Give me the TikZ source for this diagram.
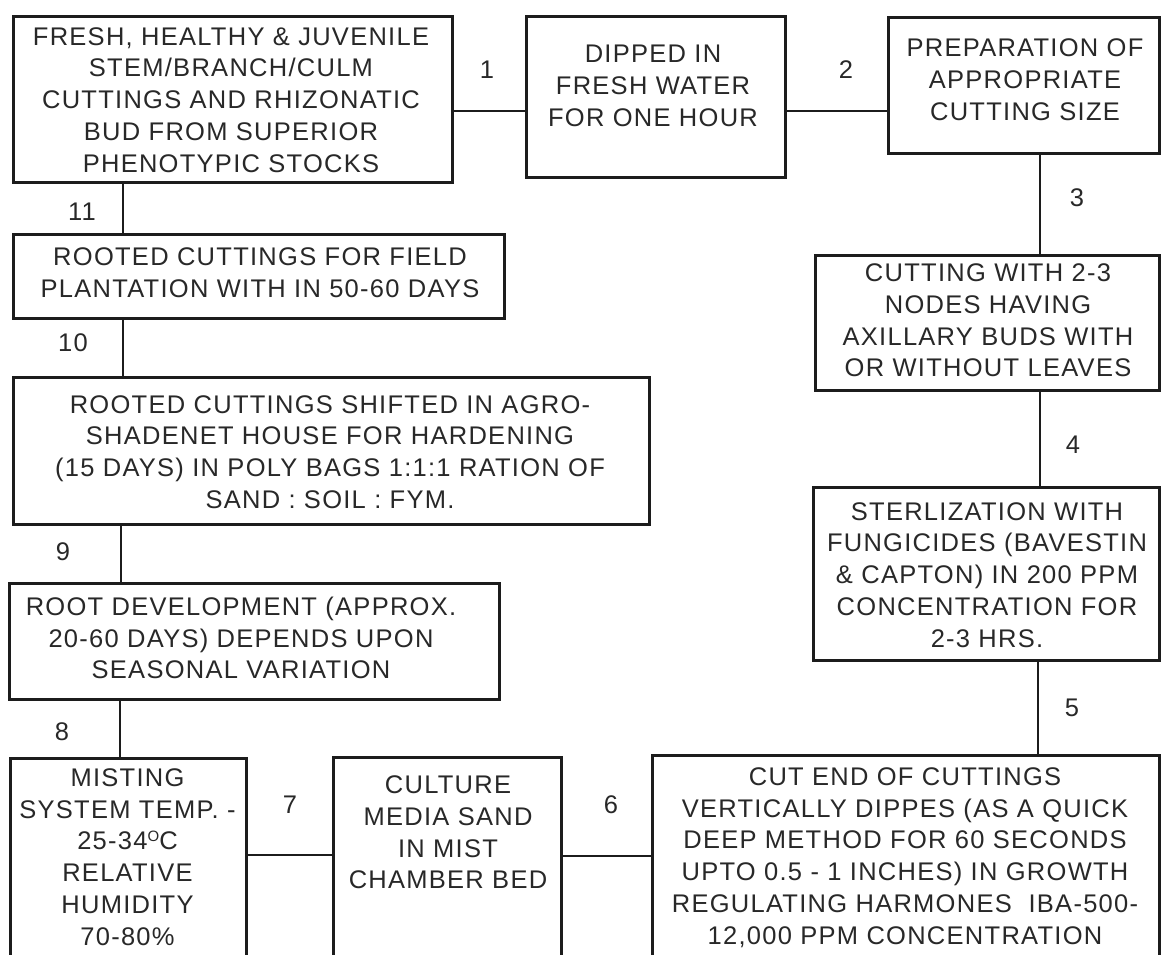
\documentclass[tikz,border=0pt]{standalone}
\usepackage{fontspec}
\newfontfamily\lab[LetterSpace=5]{Liberation Sans}
\definecolor{linec}{HTML}{1C1C1C}
\definecolor{textc}{HTML}{282828}
\tikzset{
  stepbox/.style={draw=linec, line width=3pt, rectangle, inner sep=0pt, outer sep=0pt, fill=white},
  txt/.style={align=center, font=\lab\fontsize{25.5}{31.8}\selectfont, text=textc, inner sep=0pt},
  num/.style={font=\lab\fontsize{25.5}{31.8}\selectfont, text=textc, inner sep=0pt},
  link/.style={draw=linec, line width=2.6pt}
}
\begin{document}
\begin{tikzpicture}[x=1pt, y=-1pt]
\useasboundingbox (0,0) rectangle (1162,954);
\clip (0,0) rectangle (1162,954);
\fill[white] (0,0) rectangle (1162,954);

% boxes
\node[stepbox, minimum width=439pt, minimum height=166pt] (b1) at (232.5,99) {};
\node[stepbox, minimum width=259pt, minimum height=161pt] (b2) at (655.5,96.5) {};
\node[stepbox, minimum width=271pt, minimum height=136pt] (b3) at (1023.5,85) {};
\node[stepbox, minimum width=344pt, minimum height=135pt] (b4) at (987,322.5) {};
\node[stepbox, minimum width=346pt, minimum height=173pt] (b5) at (986,573.5) {};
\node[stepbox, minimum width=507pt, minimum height=225pt] (b6) at (905.5,867.5) {};
\node[stepbox, minimum width=228pt, minimum height=223pt] (b7) at (447,868.5) {};
\node[stepbox, minimum width=236pt, minimum height=222pt] (b8) at (128,869) {};
\node[stepbox, minimum width=490pt, minimum height=116pt] (b9) at (254,641) {};
\node[stepbox, minimum width=636pt, minimum height=147pt] (b10) at (331,450.5) {};
\node[stepbox, minimum width=491pt, minimum height=84pt] (b11) at (258.5,276) {};

% texts
\node[txt] (t1) at (231,100) {FRESH, HEALTHY \& JUVENILE\\STEM/BRANCH/CULM\\CUTTINGS AND RHIZONATIC\\BUD FROM SUPERIOR\\PHENOTYPIC STOCKS};
\node[txt] (t2) at (653,86) {DIPPED IN\\FRESH WATER\\FOR ONE HOUR};
\node[txt] (t3) at (1025,80) {PREPARATION OF\\APPROPRIATE\\CUTTING SIZE};
\node[txt] (t4) at (988,320.5) {CUTTING WITH 2-3\\NODES HAVING\\AXILLARY BUDS WITH\\OR WITHOUT LEAVES};
\node[txt] (t5) at (987,575) {STERLIZATION WITH\\FUNGICIDES (BAVESTIN\\\& CAPTON) IN 200 PPM\\CONCENTRATION FOR\\2-3 HRS.};
\node[txt] (t6) at (905,857.5) {CUT END OF CUTTINGS\\VERTICALLY DIPPES (AS A QUICK\\DEEP METHOD FOR 60 SECONDS\\UPTO 0.5 - 1 INCHES) IN GROWTH\\REGULATING HARMONES\ \ IBA-500-\\12,000 PPM CONCENTRATION};
\node[txt] (t7) at (448,832.5) {CULTURE\\MEDIA SAND\\IN MIST\\CHAMBER BED};
\node[txt] (t8) at (127.5,857) {MISTING\\SYSTEM TEMP. -\\25-34\raisebox{0.33em}{\fontsize{15}{15}\selectfont O}C\\RELATIVE\\HUMIDITY\\70-80\%};
\node[txt] (t9) at (241,638) {ROOT DEVELOPMENT (APPROX.\\20-60 DAYS) DEPENDS UPON\\SEASONAL VARIATION};
\node[txt] (t10) at (330,452) {ROOTED CUTTINGS SHIFTED IN AGRO-\\SHADENET HOUSE FOR HARDENING\\(15 DAYS) IN POLY BAGS 1:1:1 RATION OF\\SAND : SOIL : FYM.};
\node[txt] (t11) at (260,273) {ROOTED CUTTINGS FOR FIELD\\PLANTATION WITH IN 50-60 DAYS};

% connectors
\draw[link] ([yshift=-12pt]b1.east) -- ([yshift=-12pt]b1.east -| b2.west);
\draw[link] ([yshift=-14.5pt]b2.east) -- ([yshift=-14.5pt]b2.east -| b3.west);
\draw[link] ([xshift=16.5pt]b3.south) -- ([xshift=16.5pt]b3.south |- b4.north);
\draw[link] ([xshift=53pt]b4.south) -- ([xshift=53pt]b4.south |- b5.north);
\draw[link] ([xshift=52pt]b5.south) -- ([xshift=52pt]b5.south |- b6.north);
\draw[link] ([yshift=12.5pt]b7.east) -- ([yshift=12.5pt]b7.east -| b6.west);
\draw[link] ([yshift=14pt]b8.east) -- ([yshift=14pt]b8.east -| b7.west);
\draw[link] ([xshift=-134pt]b9.south) -- ([xshift=-134pt]b9.south |- b8.north);
\draw[link] ([xshift=-210pt]b10.south) -- ([xshift=-210pt]b10.south |- b9.north);
\draw[link] ([xshift=-135.5pt]b11.south) -- ([xshift=-135.5pt]b11.south |- b10.north);
\draw[link] ([xshift=-109.5pt]b1.south) -- ([xshift=-109.5pt]b1.south |- b11.north);

% step numbers
\node[num] (n1) at (487,70) {1};
\node[num] (n2) at (846,70) {2};
\node[num] (n3) at (1077,198) {3};
\node[num] (n4) at (1073,445) {4};
\node[num] (n5) at (1072,708) {5};
\node[num] (n6) at (611,805) {6};
\node[num] (n7) at (290,805) {7};
\node[num] (n8) at (62,732) {8};
\node[num] (n9) at (63,552) {9};
\node[num] (n10) at (73,343) {10};
\node[num] (n11) at (82,212) {11};
\end{tikzpicture}
\end{document}
